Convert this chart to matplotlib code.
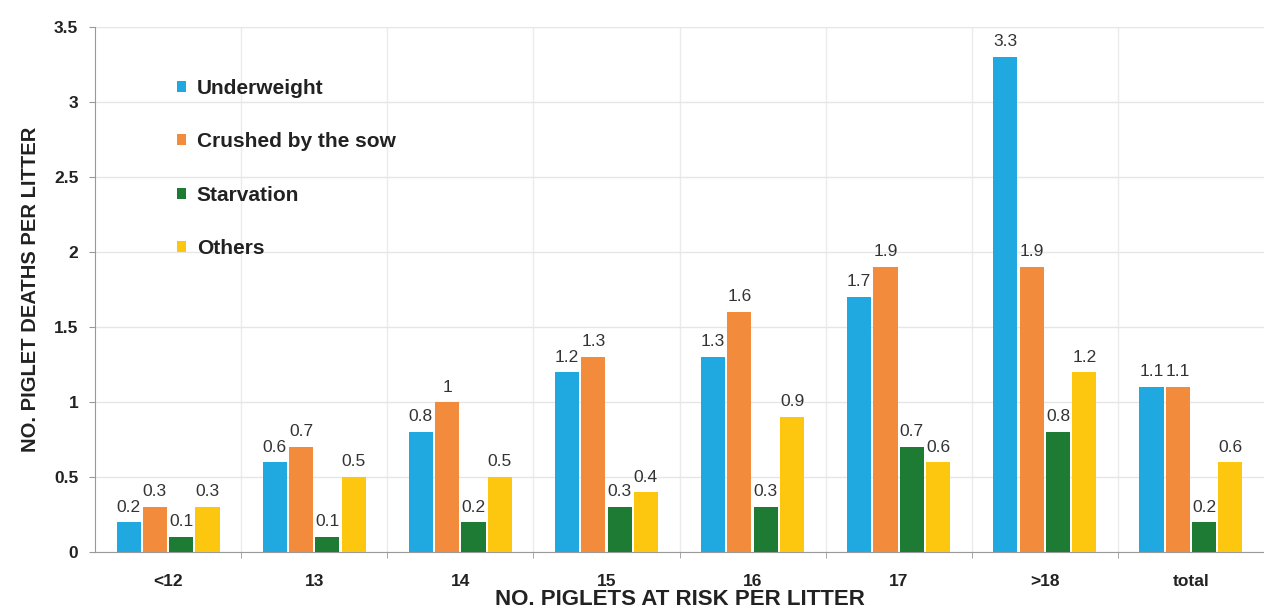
import numpy as np
import matplotlib
matplotlib.use("Agg")
import matplotlib.pyplot as plt

plt.rcParams["font.family"] = ["Liberation Sans", "DejaVu Sans"]

# data
categories = ["<12", "13", "14", "15", "16", "17", ">18", "total"]
underweight = [0.2, 0.6, 0.8, 1.2, 1.3, 1.7, 3.3, 1.1]
crushed = [0.3, 0.7, 1.0, 1.3, 1.6, 1.9, 1.9, 1.1]
starvation = [0.1, 0.1, 0.2, 0.3, 0.3, 0.7, 0.8, 0.2]
others = [0.3, 0.5, 0.5, 0.4, 0.9, 0.6, 1.2, 0.6]
series_names = ["Underweight", "Crushed by the sow", "Starvation", "Others"]
colors = ["#20A8E0", "#F28B3C", "#1D7B33", "#FDC70F"]

fig = plt.figure(figsize=(12.64, 6.16), dpi=100)
ax = fig.add_axes([95 / 1264, 1 - 552 / 616, 1169 / 1264, 525 / 616])

x = np.arange(len(categories))
width = 0.165
step = 0.18
series = [underweight, crushed, starvation, others]

for k, (vals, name, col) in enumerate(zip(series, series_names, colors)):
    b = ax.bar(x + (k - 1.5) * step, vals, width, color=col, label=name, zorder=3)
    for rect, v in zip(b, vals):
        ax.text(rect.get_x() + rect.get_width() / 2, v + 0.05, f"{v:g}",
                ha="center", va="bottom", fontsize=12.5, color="#333333")

ax.set_xlim(-0.5, len(categories) - 0.5)
ax.set_ylim(0, 3.5)
ax.set_yticks(np.arange(0, 3.51, 0.5))
ax.set_yticklabels(["0", "0.5", "1", "1.5", "2", "2.5", "3", "3.5"],
                   fontsize=12.5, fontweight="bold", color="#222222")

ax.set_xticks(x)
ax.set_xticklabels(categories, fontsize=12.5, fontweight="bold", color="#222222")
ax.tick_params(axis="x", length=0, pad=16)
ax.tick_params(axis="y", length=4, color="#999999", pad=8)

# vertical separators between groups
ax.set_xticks(np.arange(len(categories) - 1) + 0.5, minor=True)
ax.tick_params(axis="x", which="minor", length=4, color="#999999")
ax.grid(axis="x", which="minor", color="#ebebeb", linewidth=1, zorder=0)
ax.grid(axis="y", which="major", color="#e6e6e6", linewidth=1, zorder=0)

for side in ["top", "right"]:
    ax.spines[side].set_visible(False)
ax.spines["left"].set_color("#999999")
ax.spines["bottom"].set_color("#999999")

ax.set_ylabel("NO. PIGLET DEATHS PER LITTER", fontsize=14.5, fontweight="bold",
              color="#222222", labelpad=10)
ax.set_xlabel("NO. PIGLETS AT RISK PER LITTER", fontsize=16, fontweight="bold",
              color="#222222", labelpad=0)

leg = ax.legend(loc="upper left", bbox_to_anchor=(0.054, 0.937), frameon=False,
                handlelength=0.45, handleheight=0.45, handletextpad=0.5,
                labelspacing=1.65, prop={"size": 15, "weight": "bold"})
for t in leg.get_texts():
    t.set_color("#222222")

fig.savefig("out.png", dpi=100)
